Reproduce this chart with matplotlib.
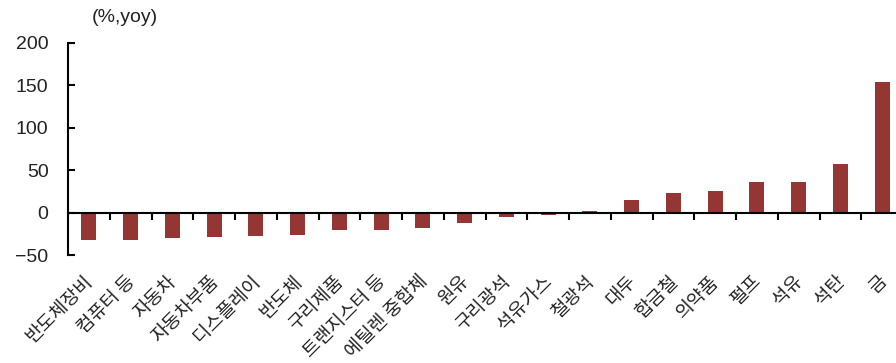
import matplotlib.pyplot as plt

# 품목별 수출 증감률 (%, yoy)
categories = ['반도체장비', '컴퓨터 등', '자동차', '자동차부품', '디스플레이', '반도체',
              '구리제품', '트랜지스터 등', '에틸렌 중합체', '원유', '구리광석', '석유가스',
              '철광석', '대두', '합금철', '의약품', '펄프', '석유', '석탄', '금']
values = [-32, -32, -30.5, -29, -28, -26,
          -20.5, -20, -18.5, -12, -5.5, -2.7,
          2, 15, 23, 25, 36, 36, 57.5, 154]
yticks = [-50, 0, 50, 100, 150, 200]

bar_color = '#943634'
text_color = '#222222'

fig = plt.figure(figsize=(8.96, 3.63), dpi=100)
ax = fig.add_axes([68 / 896, 108 / 363, 835 / 896, 212.3 / 363])

x = list(range(len(categories)))
ax.bar(x, values, width=0.36, color=bar_color, zorder=2)

ax.set_xlim(-0.5, len(categories) - 0.5)
ax.set_ylim(-50, 200)

# 축 스타일
for side in ['top', 'right']:
    ax.spines[side].set_visible(False)
ax.spines['bottom'].set_position(('data', 0))
ax.spines['bottom'].set_linewidth(1.5)
ax.spines['left'].set_linewidth(1.5)
ax.spines['bottom'].set_zorder(3)

ax.set_yticks(yticks)
ax.set_yticklabels([str(v).replace('-', '\u2212') for v in yticks],
                   fontfamily='Liberation Sans', fontsize=14, color=text_color)
ax.tick_params(axis='y', direction='in', length=5, width=1.5, pad=14)

# 카테고리 경계 눈금
ax.set_xticks([i + 0.5 for i in x[:-1]])
ax.set_xticklabels([])
ax.tick_params(axis='x', direction='out', length=5, width=1.5)

# 45도 회전 라벨
for i, name in enumerate(categories):
    ax.text(i + 0.03, -0.11, name, transform=ax.get_xaxis_transform(),
            rotation=45, rotation_mode='anchor', ha='right', va='center',
            fontfamily=['Noto Sans CJK KR', 'DejaVu Sans'], fontsize=13.5,
            color=text_color)

fig.text(125 / 896, 1 - 18 / 363, '(%,yoy)', ha='center', va='center',
         fontfamily='Liberation Sans', fontsize=14, color=text_color)

plt.savefig('out.png', dpi=100)
